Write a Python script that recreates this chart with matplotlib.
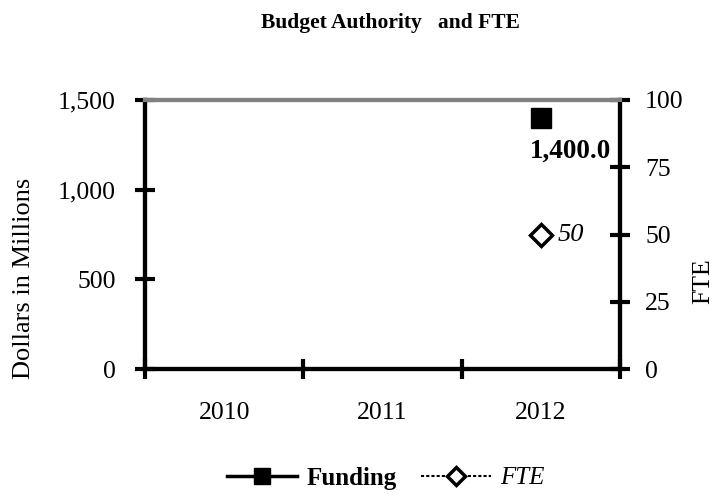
import numpy as np
import matplotlib.pyplot as plt

years = ['2010', '2011', '2012']
funding = [np.nan, np.nan, 1400.0]
fte = [np.nan, np.nan, 50]

plt.rcParams['font.family'] = ['Liberation Serif', 'DejaVu Serif']

fig = plt.figure(figsize=(7.27, 4.99), dpi=100)
ax = fig.add_axes([0.1995, 0.2605, 0.6535, 0.5391])
ax2 = ax.twinx()

x = np.arange(len(years))
ax.plot(x, funding, color='black', lw=2.5, marker='s', markersize=14, label='Funding')
ax2.plot(x, fte, color='black', lw=1.5, ls=(0, (1.5, 1)), marker='D', markersize=11,
         markerfacecolor='white', markeredgewidth=2.5, label='FTE')

for i, v in enumerate(funding):
    if not np.isnan(v):
        ax.annotate(f'{v:,.1f}', (x[i], v), xytext=(21, -15), textcoords='offset points',
                    ha='center', va='top', fontsize=19.5, fontweight='bold')
for i, v in enumerate(fte):
    if not np.isnan(v):
        ax2.annotate(f'{v:g}', (x[i], v), xytext=(12, 0), textcoords='offset points',
                     ha='left', va='center', fontsize=19, style='italic')

ax.set_xlim(-0.5, 2.5)
ax.set_ylim(0, 1500)
ax2.set_ylim(0, 100)
ax.set_yticks([0, 500, 1000, 1500])
ax.set_yticklabels(['0', '500', '1,000', '1,500'])
ax2.set_yticks([0, 25, 50, 75, 100])

ax.set_xticks([-0.5, 0.5, 1.5, 2.5])
ax.set_xticklabels([])
ax.set_xticks(x, minor=True)
ax.set_xticklabels(years, minor=True)
ax.tick_params(axis='x', which='minor', length=0, pad=24, labelsize=18.5)
ax.tick_params(axis='x', which='major', direction='inout', length=14, width=3)
ax.tick_params(axis='y', direction='inout', length=14, width=3, labelsize=18.5, pad=14)
ax2.tick_params(axis='y', direction='inout', length=14, width=3, labelsize=18.5, pad=11)

for a in (ax, ax2):
    a.spines['left'].set_linewidth(3)
    a.spines['right'].set_linewidth(3)
    a.spines['bottom'].set_linewidth(3)
    a.spines['top'].set_color('#808080')
    a.spines['top'].set_linewidth(3)

# axis titles sit a little below the plot centre in the original
fig.text(24 / 727, 1 - 278 / 499, 'Dollars in Millions', rotation=90,
         ha='center', va='center', fontsize=19)
fig.text(703 / 727, 1 - 281 / 499, 'FTE', rotation=90,
         ha='center', va='center', fontsize=18.5)

fig.text(0.537, 1 - 23 / 499, 'Budget Authority   and FTE', ha='center', va='center',
         fontsize=15.5, fontweight='bold')

h1, l1 = ax.get_legend_handles_labels()
h2, l2 = ax2.get_legend_handles_labels()
leg = fig.legend(h1 + h2, l1 + l2, loc='center', bbox_to_anchor=(386 / 727, 1 - 478 / 499),
                 ncol=2, frameon=False, fontsize=18, handlelength=2.8, handletextpad=0.36,
                 columnspacing=1.0, markerscale=0.8)
leg.get_texts()[0].set_fontweight('bold')
leg.get_texts()[1].set_style('italic')

fig.savefig('out.png', dpi=100)
